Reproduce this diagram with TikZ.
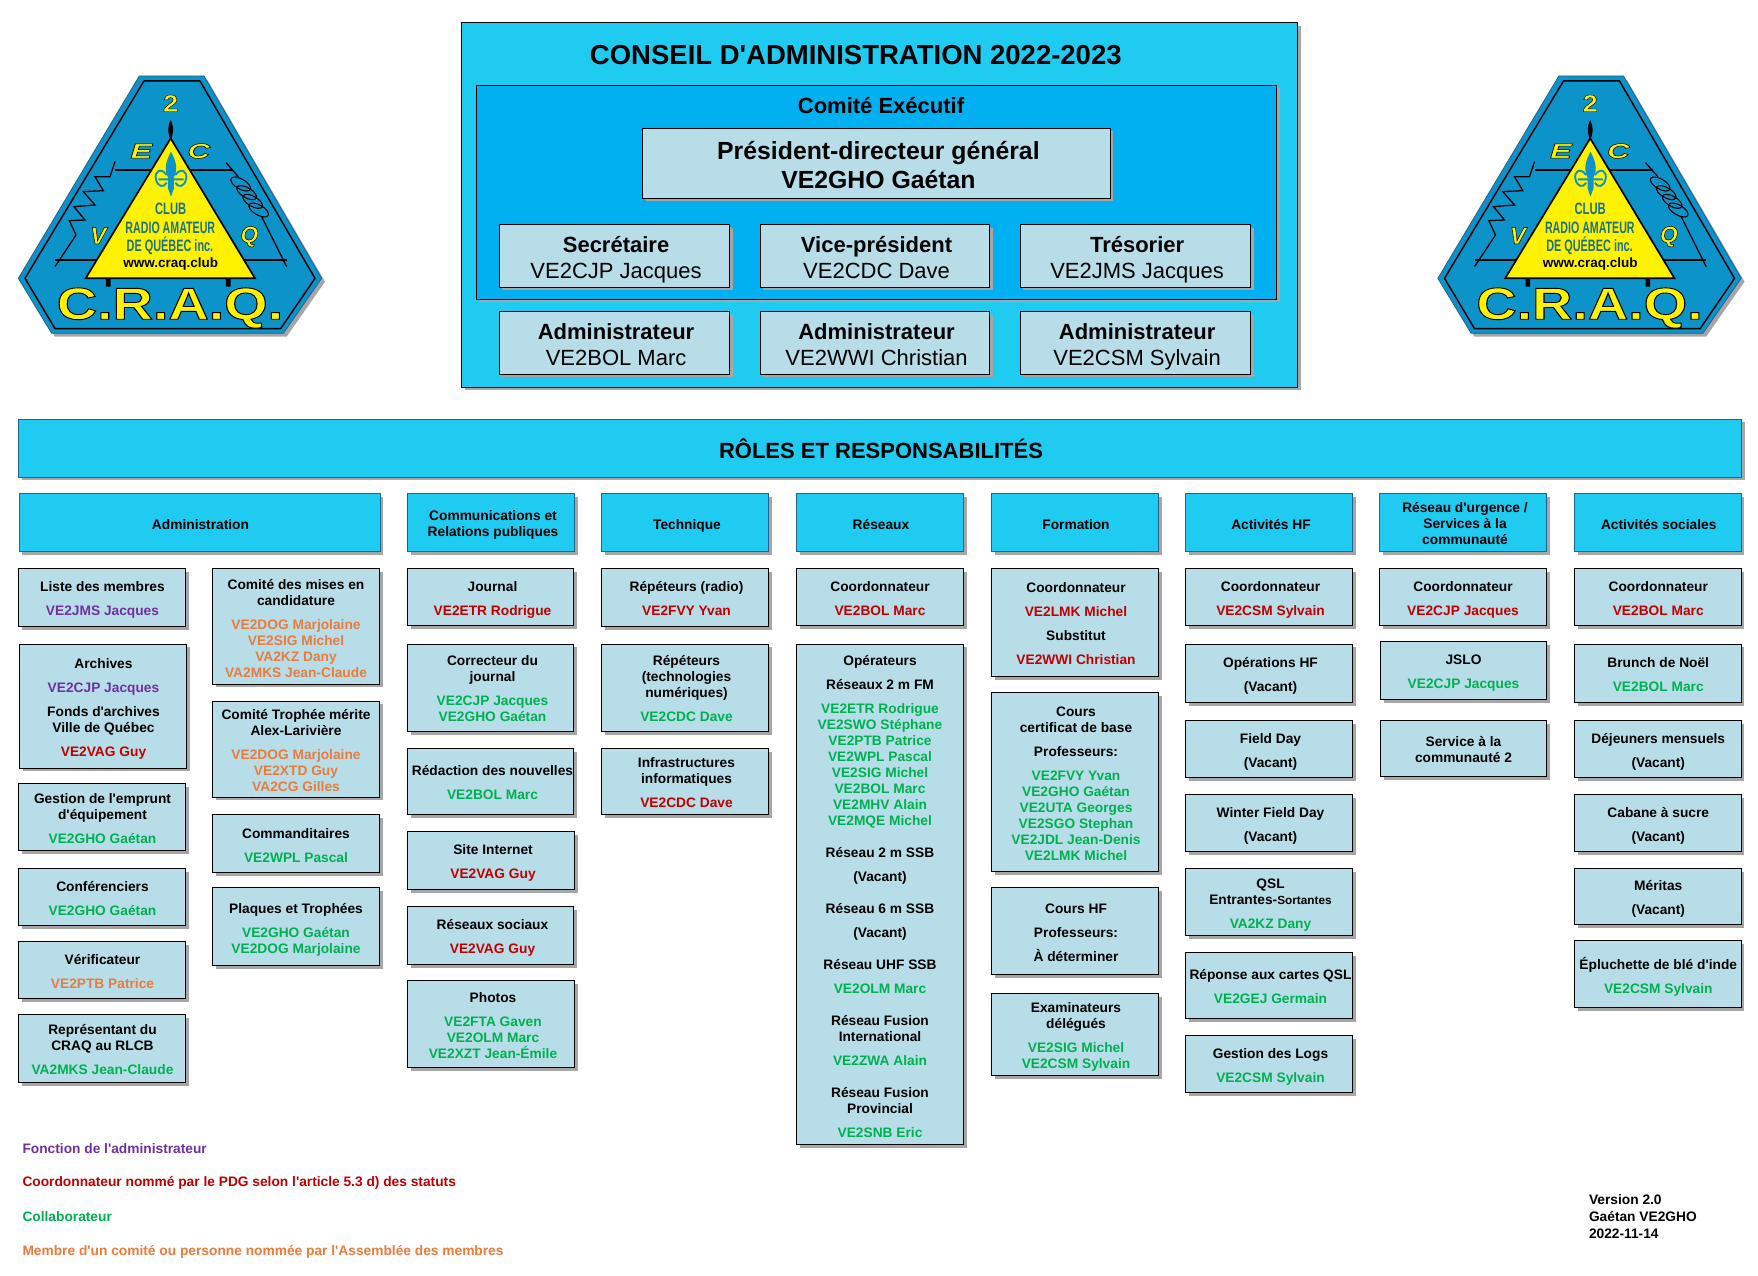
\documentclass[tikz,border=0pt]{standalone}
\usepackage{fontspec}
\usepackage{graphicx}
\newfontfamily\lib{Liberation Sans}[NFSSFamily=libf]
\renewcommand{\familydefault}{libf}
\AtBeginDocument{\normalfont\lib}
\usetikzlibrary{shadows}
\definecolor{cyanA}{HTML}{1FCBF0}
\definecolor{cyanB}{HTML}{00B0F0}
\definecolor{paleB}{HTML}{B7DEE8}
\definecolor{edgeB}{HTML}{1F6391}
\definecolor{shadeG}{HTML}{A6A6A6}
\definecolor{cPu}{HTML}{7030A0}
\definecolor{cRd}{HTML}{C00000}
\definecolor{cGn}{HTML}{00B050}
\definecolor{cOg}{HTML}{E97B3C}
\definecolor{logoB}{HTML}{0C93C9}
\definecolor{logoT}{HTML}{1B7288}
\definecolor{logoY}{HTML}{FFF200}
\newcommand{\Pu}[1]{\textcolor{cPu}{#1}}
\newcommand{\Rd}[1]{\textcolor{cRd}{#1}}
\newcommand{\Gn}[1]{\textcolor{cGn}{#1}}
\newcommand{\Og}[1]{\textcolor{cOg}{#1}}
\newcommand{\smallfs}{\fontsize{13.75}{16}\selectfont\bfseries}
\newcommand{\tdx}{0}
\newcommand{\tdy}{3}
\tikzset{
  basebox/.style={inner sep=0pt,outer sep=0pt,
    drop shadow={shadow xshift=3pt,shadow yshift=-3pt,fill=shadeG,opacity=1}},
  unitbox/.style={basebox,fill=paleB,draw=black,line width=1pt},
  headbox/.style={basebox,fill=cyanA,draw=edgeB,line width=1pt},
  bigbox/.style={basebox,fill=cyanA,draw=black,line width=1pt},
  execbox/.style={basebox,fill=cyanB,draw=black,line width=1pt},
  prezbox/.style={basebox,fill=paleB,draw=black,line width=1pt},
  rolebox/.style={basebox,fill=paleB,draw=black,line width=1pt},
  freetext/.style={inner sep=0pt,outer sep=0pt,align=center},
  strutted/.style={freetext,execute at begin node=\strut,execute at end node=\strut},
  unitboxtxt/.style={strutted,font=\smallfs},
  headboxtxt/.style={strutted,font=\smallfs},
  bigboxtxt/.style={strutted},
  execboxtxt/.style={strutted},
  prezboxtxt/.style={strutted,font=\fontsize{24.8}{29}\selectfont\bfseries},
  roleboxtxt/.style={strutted,font=\fontsize{22}{26}\selectfont},
  legendtxt/.style={inner sep=0pt,outer sep=0pt,anchor=west,font=\smallfs},
  logotxt/.style={inner sep=0pt,outer sep=0pt,align=center},
}
% [style]{x1}{y1}{x2}{y2}{content}: a box and its text
\newcommand{\bx}[6][unitbox]{%
  \node[#1,minimum width={(#4-#2)*1pt},minimum height={(#5-#3)*1pt}] (b#2n#3) at ({(#2+#4)/2},{(#3+#5)/2}) {};
  \node[#1txt] (t#2n#3) at ({(#2+#4)/2+\tdx},{(#3+#5)/2+\tdy}) {#6};}
\newcommand{\outl}[2][0.5]{\special{pdf:code 2 Tr #1 w 0 0 0 RG}#2\special{pdf:code 0 Tr}}
\newcommand{\logo}[2]{%
\begin{scope}[shift={(#2,60)},x=0.33333pt,y=-0.33333pt]
  \fill[shadeG] (432,60) -- (622,60) -- (975,665) -- (860,830) -- (165,830) -- (65,665) -- cycle;
  \fill[logoB,draw=edgeB,line width=0.8pt] (418,48) -- (612,48) -- (965,655) -- (850,820) -- (155,820) -- (55,655) -- cycle;
  \draw[black,line width=1.5pt,line join=round] (432,63) -- (600,63) -- (945,655) -- (842,806) -- (165,806) -- (75,655) -- cycle;
  % circuit
  \draw[black,line width=1.3pt] (345,305) -- (330,350) -- (285,350) -- (310,392) -- (250,395) -- (285,435) -- (222,440) -- (255,480) -- (208,482) -- (228,525) -- (165,620);
  \draw[black,line width=1.3pt] (345,330) -- (470,330) (550,330) -- (700,330);
  \draw[black,line width=1.3pt] (165,600) -- (330,600) (690,600) -- (860,600);
  \draw[black,line width=1.3pt] (678,308) -- (715,350) (785,470) -- (860,620);
  \foreach \cx/\cy in {722/372,740/398,758/424,776/450}{
    \draw[black,line width=1.1pt] (\cx,\cy) ellipse [x radius=11pt,y radius=5pt,rotate=-30];}
  \fill[black] (512,180) .. controls (500,205) and (505,225) .. (512,240) .. controls (519,225) and (524,205) .. (512,180) -- cycle;
  \fill[black] (318,650) rectangle (332,680) (678,650) rectangle (692,680);
  % yellow triangle
  \fill[logoY,draw=black,line width=1.7pt,line join=miter] (512,235) -- (765,655) -- (257,655) -- cycle;
  % fleur-de-lis
  \fill[logoB] (513,275) .. controls (500,300) and (490,325) .. (504,352) -- (504,385) -- (513,410) -- (522,385) -- (522,352) .. controls (536,325) and (526,300) .. (513,275) -- cycle;
  \draw[logoB,line width=1.9pt] (500,345) .. controls (482,320) and (462,335) .. (468,358) .. controls (472,380) and (492,385) .. (500,368)
     (526,345) .. controls (544,320) and (564,335) .. (558,358) .. controls (554,380) and (534,385) .. (526,368)
     (475,358) -- (551,358);
  % lettering
  \node[logotxt,text=logoT,font=\fontsize{16.5}{16}\selectfont\bfseries] (#1club) at (512,445) {\scalebox{0.68}[1]{CLUB}};
  \node[logotxt,text=logoT,font=\fontsize{16.5}{16}\selectfont\bfseries] (#1radio) at (511,503) {\scalebox{0.645}[1]{RADIO AMATEUR}};
  \node[logotxt,text=logoT,font=\fontsize{16.5}{16}\selectfont\bfseries] (#1deq) at (510,558) {\scalebox{0.66}[1]{DE QUÉBEC inc.}};
  \node[logotxt,text=black,font=\fontsize{13.5}{14}\selectfont\bfseries] (#1www) at (512,612) {www.craq.club};
  \node[logotxt,text=logoY,font=\fontsize{24}{24}\selectfont\bfseries] (#1two) at (512,130) {\scalebox{1.15}[1]{\outl[0.4]{2}}};
  \node[logotxt,text=logoY,font=\fontsize{21}{21}\selectfont\bfseries\itshape] (#1E) at (424,273) {\scalebox{1.55}[1]{\outl{E}}};
  \node[logotxt,text=logoY,font=\fontsize{21}{21}\selectfont\bfseries\itshape] (#1C) at (596,273) {\scalebox{1.5}[1]{\outl{C}}};
  \node[logotxt,text=logoY,font=\fontsize{24}{24}\selectfont\bfseries\itshape] (#1V) at (295,527) {\outl{V}};
  \node[logotxt,text=logoY,font=\fontsize{23}{23}\selectfont\bfseries\itshape] (#1Q) at (748,530) {\outl{Q}};
  \node[logotxt,text=logoY,font=\fontsize{45}{45}\selectfont\bfseries] (#1craq) at (510,744) {\scalebox{1.24}[1]{\outl[0.9]{C.R.A.Q.}}};
\end{scope}}
\begin{document}
\begin{tikzpicture}[x=1pt,y=-1pt]
\useasboundingbox (0,0) rectangle (1758,1276);

\logo{la}{0}
\logo{lb}{1419.5}

% Conseil
\node[bigbox,minimum width=836pt,minimum height=364.6pt] (conseil) at (879.5,205) {};
\node[execbox,minimum width=800.3pt,minimum height=214pt] (exec) at (876.45,192.3) {};
\node[freetext,font=\fontsize{27.5}{32}\selectfont\bfseries] (ctitle) at (855.8,55) {CONSEIL D'ADMINISTRATION 2022-2023};
\node[freetext,font=\fontsize{22}{26}\selectfont\bfseries] (ceexec) at (881,106) {Comité Exécutif};
\renewcommand{\tdx}{2}\renewcommand{\tdy}{6.2}
\bx[prezbox]{642.5}{128.3}{1110.4}{198.3}{Président-directeur général\\VE2GHO Gaétan}
\renewcommand{\tdx}{1.5}\renewcommand{\tdy}{5.8}
\bx[rolebox]{499.4}{224.7}{729.7}{287.3}{\textbf{Secrétaire}\\VE2CJP Jacques}
\bx[rolebox]{760.4}{224.7}{989.7}{287.3}{\textbf{Vice-président}\\VE2CDC Dave}
\bx[rolebox]{1020.4}{224.7}{1250.8}{287.3}{\textbf{Trésorier}\\VE2JMS Jacques}
\bx[rolebox]{499.4}{311.7}{729.7}{374}{\textbf{Administrateur}\\VE2BOL Marc}
\bx[rolebox]{760.4}{311.7}{989.7}{374}{\textbf{Administrateur}\\VE2WWI Christian}
\bx[rolebox]{1020.4}{311.7}{1250.8}{374}{\textbf{Administrateur}\\VE2CSM Sylvain}

% Banner
\node[basebox,fill=cyanA,draw=edgeB,line width=1pt,minimum width=1723pt,minimum height=58pt] (banner) at (880,448) {};
\node[freetext,font=\fontsize{22}{26}\selectfont\bfseries] (bannertxt) at (881,449) {RÔLES ET RESPONSABILITÉS};

% Headers
\renewcommand{\tdy}{3.5}
\renewcommand{\tdx}{1}\bx[headbox]{19}{493.5}{380}{551.5}{Administration}
\renewcommand{\tdx}{2}\bx[headbox]{407.5}{493.5}{574.5}{551.5}{Communications et\\Relations publiques}
\renewcommand{\tdx}{2}\bx[headbox]{601.5}{493.5}{768.5}{551.5}{Technique}
\renewcommand{\tdx}{1}\bx[headbox]{796.5}{493.5}{963.5}{551.5}{Réseaux}
\renewcommand{\tdx}{1}\bx[headbox]{991.5}{493.5}{1158.5}{551.5}{Formation}
\renewcommand{\tdx}{2}\bx[headbox]{1185.5}{493.5}{1352.5}{551.5}{Activités HF}
\renewcommand{\tdx}{2}\bx[headbox]{1379.5}{493.5}{1546.5}{551.5}{Réseau d'urgence /\\Services à la\\communauté}
\renewcommand{\tdx}{1}\bx[headbox]{1574.5}{493.5}{1741}{551.5}{Activités sociales}

% Administration
\renewcommand{\tdx}{0.5}\renewcommand{\tdy}{3.6}
\bx{18.5}{568.5}{185.5}{626.5}{Liste des membres\\[8pt]\Pu{VE2JMS Jacques}}
\bx{19.5}{644}{186.5}{768}{Archives\\[8pt]\Pu{VE2CJP Jacques}\\[8pt]Fonds d'archives\\Ville de Québec\\[8pt]\Rd{VE2VAG Guy}}
\bx{18.5}{783.5}{185.5}{850.5}{Gestion de l'emprunt\\d'équipement\\[8pt]\Gn{VE2GHO Gaétan}}
\bx{18.5}{868.5}{185.5}{925.5}{Conférenciers\\[8pt]\Gn{VE2GHO Gaétan}}
\bx{18.5}{941.5}{185.5}{998.5}{Vérificateur\\[8pt]\Og{VE2PTB Patrice}}
\bx{18.5}{1014.5}{185.5}{1082.5}{Représentant du\\CRAQ au RLCB\\[8pt]\Gn{VA2MKS Jean-Claude}}
\renewcommand{\tdx}{0}\renewcommand{\tdy}{5}
\bx{212.5}{568.5}{379.5}{684}{Comité des mises en\\candidature\\[8pt]\Og{VE2DOG Marjolaine}\\\Og{VE2SIG Michel}\\\Og{VA2KZ Dany}\\\Og{VA2MKS Jean-Claude}}
\renewcommand{\tdy}{4}
\bx{212.5}{701}{379.5}{797}{Comité Trophée mérite\\Alex-Larivière\\[8pt]\Og{VE2DOG Marjolaine}\\\Og{VE2XTD Guy}\\\Og{VA2CG Gilles}}
\bx{212.5}{814.5}{379.5}{872.5}{Commanditaires\\[8pt]\Gn{VE2WPL Pascal}}
\bx{212.5}{887.5}{379.5}{965.5}{Plaques et Trophées\\[8pt]\Gn{VE2GHO Gaétan}\\\Gn{VE2DOG Marjolaine}}

% Communications
\renewcommand{\tdx}{2}\renewcommand{\tdy}{3.6}
\bx{407.5}{568.5}{573.5}{625.5}{Journal\\[8pt]\Rd{VE2ETR Rodrigue}}
\bx{407.5}{644}{573.5}{731.5}{Correcteur du\\journal\\[8pt]\Gn{VE2CJP Jacques}\\\Gn{VE2GHO Gaétan}}
\bx{407.5}{748.5}{573.5}{814.5}{Rédaction des nouvelles\\[8pt]\Gn{VE2BOL Marc}}
\bx{407.5}{831.5}{574.5}{889.5}{Site Internet\\[8pt]\Rd{VE2VAG Guy}}
\bx{407.5}{906.5}{573.5}{964.5}{Réseaux sociaux\\[8pt]\Rd{VE2VAG Guy}}
\bx{407.5}{980.5}{574.5}{1067.5}{Photos\\[8pt]\Gn{VE2FTA Gaven}\\\Gn{VE2OLM Marc}\\\Gn{VE2XZT Jean-Émile}}

% Technique
\renewcommand{\tdx}{1.5}
\bx{601.5}{568.5}{768.5}{626.5}{Répéteurs (radio)\\[8pt]\Rd{VE2FVY Yvan}}
\bx{601.5}{644}{768.5}{731.5}{Répéteurs\\(technologies\\numériques)\\[8pt]\Gn{VE2CDC Dave}}
\bx{601.5}{748.5}{768.5}{814.5}{Infrastructures\\informatiques\\[8pt]\Rd{VE2CDC Dave}}

% Réseaux
\renewcommand{\tdx}{0}
\bx{796.5}{568.5}{963.5}{625.5}{Coordonnateur\\[8pt]\Rd{VE2BOL Marc}}
\renewcommand{\tdy}{4.5}
\bx{796.5}{644}{963.5}{1144.5}{Opérateurs\\[8pt]Réseaux 2 m FM\\[8pt]\Gn{VE2ETR Rodrigue}\\\Gn{VE2SWO Stéphane}\\\Gn{VE2PTB Patrice}\\\Gn{VE2WPL Pascal}\\\Gn{VE2SIG Michel}\\\Gn{VE2BOL Marc}\\\Gn{VE2MHV Alain}\\\Gn{VE2MQE Michel}\\[16pt]Réseau 2 m SSB\\[8pt](Vacant)\\[16pt]Réseau 6 m SSB\\[8pt](Vacant)\\[16pt]Réseau UHF SSB\\[8pt]\Gn{VE2OLM Marc}\\[16pt]Réseau Fusion\\International\\[8pt]\Gn{VE2ZWA Alain}\\[16pt]Réseau Fusion\\Provincial\\[8pt]\Gn{VE2SNB Eric}}

% Formation
\renewcommand{\tdx}{1}\renewcommand{\tdy}{3.8}
\bx{991.5}{568.5}{1158.5}{676.5}{Coordonnateur\\[8pt]\Rd{VE2LMK Michel}\\[8pt]Substitut\\[8pt]\Rd{VE2WWI Christian}}
\bx{991.5}{692.5}{1158.5}{871.5}{Cours\\certificat de base\\[8pt]Professeurs:\\[8pt]\Gn{VE2FVY Yvan}\\\Gn{VE2GHO Gaétan}\\\Gn{VE2UTA Georges}\\\Gn{VE2SGO Stephan}\\\Gn{VE2JDL Jean-Denis}\\\Gn{VE2LMK Michel}}
\bx{991.5}{887.5}{1158.5}{974.5}{Cours HF\\[8pt]Professeurs:\\[8pt]À déterminer}
\bx{991.5}{993.5}{1158.5}{1075.5}{Examinateurs\\délégués\\[8pt]\Gn{VE2SIG Michel}\\\Gn{VE2CSM Sylvain}}

% Activités HF
\renewcommand{\tdx}{1.5}\renewcommand{\tdy}{3.6}
\bx{1185.5}{568.5}{1352.5}{625.5}{Coordonnateur\\[8pt]\Rd{VE2CSM Sylvain}}
\bx{1185.5}{644}{1352.5}{702.5}{Opérations HF\\[8pt](Vacant)}
\bx{1185.5}{720.5}{1352.5}{777.5}{Field Day\\[8pt](Vacant)}
\bx{1185.5}{794.5}{1352.5}{851.5}{Winter Field Day\\[8pt](Vacant)}
\bx{1185.5}{868.5}{1352.5}{935.5}{QSL\\Entrantes-{\fontsize{11.8}{16}\selectfont Sortantes}\\[8pt]\Gn{VA2KZ Dany}}
\bx{1185.5}{952.5}{1352.5}{1018.5}{Réponse aux cartes QSL\\[8pt]\Gn{VE2GEJ Germain}}
\bx{1185.5}{1035.5}{1352.5}{1092.5}{Gestion des Logs\\[8pt]\Gn{VE2CSM Sylvain}}

% Urgence
\renewcommand{\tdx}{0}
\bx{1379.5}{568.5}{1546.5}{625.5}{Coordonnateur\\[8pt]\Rd{VE2CJP Jacques}}
\bx{1380.5}{641.5}{1546.5}{699.5}{JSLO\\[8pt]\Gn{VE2CJP Jacques}}
\bx{1380.5}{720.5}{1546.5}{776.5}{Service à la\\communauté 2}

% Sociales
\renewcommand{\tdx}{0.5}
\bx{1574.5}{568.5}{1741}{625.5}{Coordonnateur\\[8pt]\Rd{VE2BOL Marc}}
\bx{1574.5}{644}{1741}{702.5}{Brunch de Noël\\[8pt]\Gn{VE2BOL Marc}}
\bx{1574.5}{720.5}{1741}{777.5}{Déjeuners mensuels\\[8pt](Vacant)}
\bx{1574.5}{794.5}{1741}{851.5}{Cabane à sucre\\[8pt](Vacant)}
\bx{1574.5}{868.5}{1741}{924.5}{Méritas\\[8pt](Vacant)}
\bx{1574.5}{940.5}{1741}{1007.5}{Épluchette de blé d'inde\\[8pt]\Gn{VE2CSM Sylvain}}

% Legend
\node[legendtxt,text=cPu] (lega) at (22.5,1149) {Fonction de l'administrateur};
\node[legendtxt,text=cRd] (legb) at (22.5,1183) {Coordonnateur nommé par le PDG selon l'article 5.3 d) des statuts};
\node[legendtxt,text=cGn] (legc) at (22.5,1217) {Collaborateur};
\node[legendtxt,text=cOg] (legd) at (22.5,1251.5) {Membre d'un comité ou personne nommée par l'Assemblée des membres};

\node[legendtxt] (vera) at (1589,1200) {Version 2.0};
\node[legendtxt] (verb) at (1589,1217) {Gaétan VE2GHO};
\node[legendtxt] (verc) at (1589,1234) {2022-11-14};
\end{tikzpicture}
\end{document}
